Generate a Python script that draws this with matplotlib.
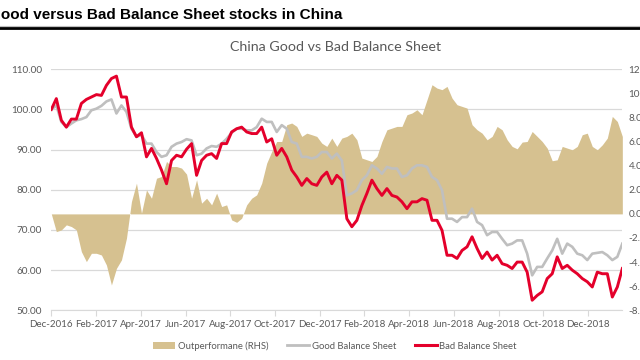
import matplotlib.pyplot as plt
import numpy as np
from matplotlib.lines import Line2D
from matplotlib.patches import Patch
from matplotlib.transforms import blended_transform_factory

plt.rcParams['font.family'] = ['Lato', 'DejaVu Sans']

# x axis labels (every 2 months, first one at the first data point)
month_labels = ["Dec-2016", "Feb-2017", "Apr-2017", "Jun-2017", "Aug-2017", "Oct-2017",
                "Dec-2017", "Feb-2018", "Apr-2018", "Jun-2018", "Aug-2018", "Oct-2018",
                "Dec-2018"]

# indexed prices (LHS)
bad = [100.0, 102.7, 97.3, 95.6, 97.6, 97.6, 101.5, 102.5, 103.1, 103.7, 103.5, 106.0, 107.7, 108.3,
       103.1, 103.1, 95.6, 93.2, 94.2, 88.2, 90.3, 87.8, 84.9, 81.5, 87.3, 88.6, 88.2, 90.1,
       91.5, 83.6, 87.3, 88.6, 89.0, 87.8, 91.5, 91.5, 94.4, 95.2, 95.6, 94.4, 94.0, 94.0,
       95.6, 91.9, 92.7, 88.6, 90.3, 88.2, 84.9, 83.2, 81.1, 82.8, 81.5, 81.1, 83.2, 84.4, 81.5,
       83.6, 82.4, 72.8, 70.8, 72.4, 76.1, 79.1, 82.4, 80.3, 78.6, 80.3, 78.6, 78.2, 77.0,
       75.3, 77.0, 77.0, 77.8, 77.4, 72.4, 72.4, 69.9, 63.7, 63.7, 62.9, 64.9, 65.8, 68.3, 65.4,
       62.9, 64.5, 62.5, 63.7, 61.6, 61.2, 60.4, 62.0, 62.0, 59.5, 52.5, 53.7, 54.6, 57.9,
       59.1, 63.3, 60.4, 61.2, 60.0, 59.1, 57.9, 57.1, 55.8, 59.5, 59.1, 59.1, 53.3, 55.8, 60.4]

good = [100.0, 101.0, 96.9, 95.6, 96.5, 97.3, 97.6, 98.1, 99.8, 100.2, 100.9, 102.0, 102.5, 99.0,
        101.0, 99.4, 95.2, 93.2, 93.7, 91.5, 91.5, 89.4, 88.2, 88.6, 90.7, 91.5, 91.9, 92.6,
        92.3, 88.6, 89.0, 90.3, 90.9, 90.7, 91.5, 92.7, 94.2, 95.2, 95.2, 94.8, 94.8, 95.6,
        97.7, 96.9, 96.9, 94.4, 96.1, 95.2, 91.9, 91.5, 88.2, 88.2, 87.8, 88.2, 89.4, 89.4, 87.8,
        89.0, 87.3, 78.6, 79.1, 79.9, 82.4, 83.6, 86.1, 85.3, 84.0, 85.7, 85.3, 85.3, 83.2,
        83.6, 85.3, 86.1, 86.1, 85.7, 83.2, 82.4, 79.9, 72.8, 72.8, 72.0, 73.2, 73.2, 75.3, 72.0,
        71.2, 68.7, 69.5, 69.5, 67.8, 66.2, 66.6, 67.4, 67.4, 64.1, 58.7, 60.8, 60.8, 62.9,
        64.9, 67.8, 64.1, 66.6, 65.8, 64.1, 63.7, 62.5, 64.1, 64.3, 64.5, 63.7, 62.5, 63.3, 66.6]

# outperformance (RHS)
outperf = [0.0, -1.47, -1.33, -0.91, -1.05, -1.33, -3.13, -3.96, -3.27, -3.27, -3.41, -4.24, -5.9,
           -4.52, -3.82, -2.02, 1.03, 2.55, 0.06, 1.99, 1.30, 2.96, 3.10, 4.35, 3.93, 3.93, 3.80, 3.30,
           1.30, 2.83, 0.89, 1.30, 0.75, 1.72, 0.61, 0.75, -0.50, -0.70, -0.36, 0.75, 1.30, 1.58,
           2.55, 4.21, 5.18, 6.01, 6.01, 7.40, 7.54, 7.26, 6.43, 6.70, 6.57, 6.43, 5.87, 5.60, 6.29,
           5.60, 6.29, 6.43, 6.70, 6.15, 4.63, 4.49, 4.35, 4.77, 6.01, 6.98, 7.12, 7.26, 7.26,
           8.23, 8.37, 8.64, 8.23, 9.47, 10.72, 10.44, 10.31, 10.58, 9.61, 9.06, 8.92, 8.78, 7.40, 6.98,
           6.70, 6.15, 6.43, 7.26, 6.98, 6.15, 5.60, 5.40, 5.96, 6.01, 6.84, 6.43, 6.01, 5.46,
           4.41, 4.49, 5.60, 5.46, 5.32, 5.60, 6.57, 6.70, 5.60, 5.32, 5.73, 6.29, 8.09, 7.67, 6.43]

left_ticks = [50, 60, 70, 80, 90, 100, 110]
right_ticks = [-8, -6, -4, -2, 0, 2, 4, 6, 8, 10, 12]

RED = '#E4002B'
GREY = '#BFBFBF'
TAN = '#D6C190'
TXT = '#595959'
GRID = '#D9D9D9'

# months since first observation (Dec-2016), evenly spaced samples
x = np.linspace(0, 25.53, len(bad))

fig = plt.figure(figsize=(6.4, 3.6), dpi=100)
ax = fig.add_axes([0.0802, 0.1381, 0.8922, 0.6694])
axr = ax.twinx()
ax.set_zorder(axr.get_zorder() + 1)
ax.patch.set_visible(False)

# gridlines behind the area (drawn on the lower axes, at LHS values)
trans = blended_transform_factory(axr.transAxes, ax.transData)
for v in left_ticks:
    axr.plot([0, 1], [v, v], color=GRID, lw=0.9, transform=trans, zorder=0)

# area on the right axis
axr.fill_between(x, 0, outperf, color=TAN, lw=0, zorder=1)
axr.set_ylim(-8, 12)
axr.set_yticks(right_ticks)
axr.set_yticklabels(["%.2f" % v for v in right_ticks])

# lines on the left axis
ax.plot(x, good, color=GREY, lw=1.9)
ax.plot(x, bad, color=RED, lw=2.1)
ax.set_ylim(50, 110)
ax.set_yticks(left_ticks)
ax.set_yticklabels(["%.2f" % v for v in left_ticks])
ax.set_xlim(0, 25.53)
ax.set_xticks(np.arange(0, 25, 2))
ax.set_xticklabels(month_labels)

for a in (ax, axr):
    for s in a.spines.values():
        s.set_visible(False)
ax.spines['bottom'].set_visible(True)
ax.spines['bottom'].set_color(GRID)
ax.tick_params(axis='x', length=4, color=GRID, labelsize=7.0, labelcolor=TXT, pad=3)
ax.tick_params(axis='y', length=0, labelsize=7.2, labelcolor=TXT, pad=6.5)
axr.tick_params(axis='y', length=0, labelsize=7.2, labelcolor=TXT, pad=4.5)

# heading strip
fig.text(-11 / 640, 1 - 15 / 360, "Good versus Bad Balance Sheet stocks in China",
         family='Liberation Sans', weight='bold', fontsize=11, va='center', ha='left', color='black')
fig.add_artist(Line2D([0, 1], [1 - 26 / 360] * 2, color='#BFBFBF', lw=0.8))
fig.add_artist(Line2D([0, 1], [1 - 28.2 / 360] * 2, color='black', lw=2))

fig.text(336 / 640, 1 - 47 / 360, "China Good vs Bad Balance Sheet",
         ha='center', va='center', fontsize=10.3, color=TXT)

handles = [Patch(facecolor=TAN, edgecolor='none'),
           Line2D([], [], color=GREY, lw=2),
           Line2D([], [], color=RED, lw=2.2)]
fig.legend(handles, ["Outperformane (RHS)", "Good Balance Sheet", "Bad Balance Sheet"],
           loc='center', bbox_to_anchor=(335 / 640, 1 - 346 / 360), ncol=3, frameon=False,
           fontsize=6.8, handlelength=2.3, handletextpad=0.3, columnspacing=2.0, labelcolor=TXT)

fig.savefig('out.png', dpi=100)
